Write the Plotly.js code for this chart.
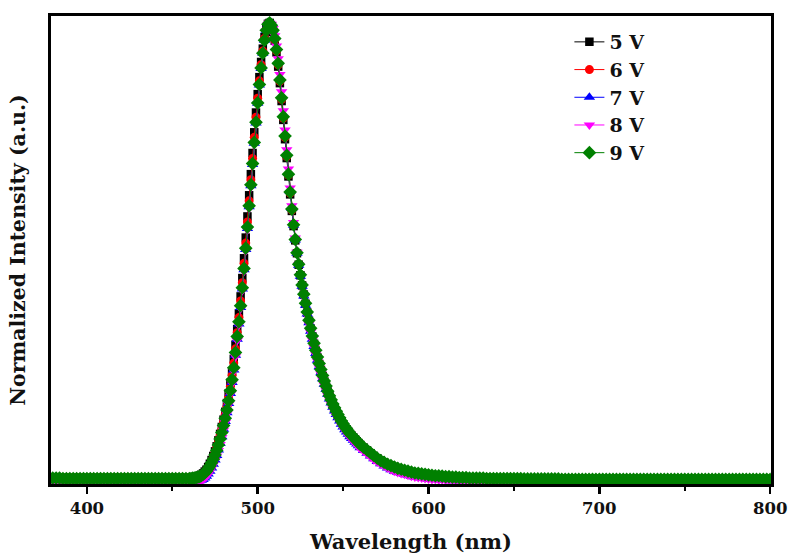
<!DOCTYPE html>
<html>
<head>
<meta charset="utf-8">
<script src="https://cdn.plot.ly/plotly-3.0.1.min.js"></script>
<style>html,body{margin:0;padding:0;background:#fff;}#chart{width:791px;height:554px;}</style>
</head>
<body>
<div id="chart"></div>
<script>
const wavelength = [
380,382,384,386,388,390,392,394,396,398,
400,402,404,406,408,410,412,414,416,418,
420,422,424,426,428,430,432,434,436,438,
440,442,444,446,448,450,452,454,456,458,
460,
461,462,463,464,465,466,467,468,469,470,
471,472,473,474,475,476,477,478,479,480,
481,482,483,484,485,486,487,488,489,490,
491,492,493,494,495,496,497,498,499,500,
501,502,503,504,505,506,507,508,509,510,
511,512,513,514,515,516,517,518,519,520,
521,522,523,524,525,526,527,528,529,530,
531,532,533,534,535,536,537,538,539,540,
541,542,543,544,545,546,547,548,549,550,
551,552,553,554,555,556,557,558,559,560,
562,564,566,568,570,572,574,576,578,580,
582,584,586,588,590,592,594,596,598,600,
602,604,606,608,610,612,614,616,618,620,
622,624,626,628,630,632,634,636,638,640,
642,644,646,648,650,652,654,656,658,660,
662,664,666,668,670,672,674,676,678,680,
682,684,686,688,690,692,694,696,698,700,
702,704,706,708,710,712,714,716,718,720,
722,724,726,728,730,732,734,736,738,740,
742,744,746,748,750,752,754,756,758,760,
762,764,766,768,770,772,774,776,778,780,
782,784,786,788,790,792,794,796,798,800
];

const int5V = [
0.010,0.010,0.010,0.010,0.010,0.010,0.010,0.010,0.010,0.010,
0.010,0.010,0.010,0.010,0.010,0.010,0.010,0.010,0.010,0.010,
0.010,0.010,0.010,0.010,0.010,0.010,0.010,0.010,0.010,0.010,
0.010,0.010,0.010,0.010,0.010,0.010,0.010,0.010,0.010,0.010,
0.010,
0.010,0.010,0.011,0.012,0.013,0.015,0.017,0.020,0.024,0.028,
0.034,0.041,0.049,0.058,0.068,0.079,0.092,0.106,0.121,0.137,
0.154,0.173,0.194,0.217,0.242,0.269,0.300,0.334,0.368,0.405,
0.445,0.488,0.533,0.579,0.625,0.671,0.717,0.762,0.805,0.845,
0.882,0.915,0.944,0.969,0.988,0.998,1.000,0.993,0.980,0.961,
0.936,0.905,0.869,0.830,0.789,0.747,0.706,0.666,0.627,0.591,
0.558,0.527,0.499,0.474,0.451,0.429,0.409,0.389,0.370,0.352,
0.335,0.318,0.302,0.287,0.272,0.258,0.245,0.232,0.220,0.209,
0.198,0.188,0.179,0.170,0.162,0.154,0.147,0.140,0.133,0.127,
0.121,0.116,0.111,0.106,0.102,0.098,0.094,0.090,0.086,0.082,
0.076,0.070,0.064,0.058,0.053,0.048,0.044,0.040,0.037,0.034,
0.031,0.029,0.027,0.025,0.023,0.021,0.020,0.019,0.018,0.017,
0.016,0.015,0.015,0.014,0.013,0.013,0.012,0.012,0.011,0.011,
0.011,0.011,0.010,0.010,0.010,0.010,0.010,0.010,0.010,0.009,
0.009,0.009,0.009,0.009,0.009,0.009,0.009,0.009,0.009,0.009,
0.009,0.009,0.009,0.009,0.009,0.008,0.008,0.008,0.008,0.008,
0.008,0.008,0.008,0.008,0.008,0.008,0.008,0.008,0.008,0.008,
0.008,0.008,0.008,0.008,0.008,0.008,0.008,0.008,0.008,0.008,
0.008,0.008,0.008,0.008,0.008,0.008,0.008,0.008,0.008,0.008,
0.008,0.008,0.008,0.008,0.008,0.008,0.008,0.008,0.008,0.008,
0.008,0.008,0.008,0.008,0.008,0.008,0.008,0.008,0.008,0.008,
0.008,0.008,0.008,0.008,0.008,0.008,0.008,0.008,0.008,0.008
];

const int6V = [
0.010,0.010,0.010,0.010,0.010,0.010,0.010,0.010,0.010,0.010,
0.010,0.010,0.010,0.010,0.010,0.010,0.010,0.010,0.010,0.010,
0.010,0.010,0.010,0.010,0.010,0.010,0.010,0.010,0.010,0.010,
0.010,0.010,0.010,0.010,0.010,0.010,0.010,0.010,0.010,0.010,
0.010,
0.010,0.010,0.011,0.011,0.012,0.014,0.016,0.019,0.022,0.027,
0.032,0.038,0.046,0.055,0.064,0.075,0.087,0.101,0.115,0.131,
0.148,0.166,0.186,0.209,0.233,0.260,0.291,0.326,0.359,0.395,
0.435,0.477,0.521,0.567,0.613,0.659,0.705,0.751,0.795,0.836,
0.874,0.909,0.939,0.966,0.986,0.998,1.000,0.994,0.982,0.963,
0.939,0.909,0.873,0.834,0.793,0.751,0.709,0.669,0.630,0.593,
0.560,0.528,0.500,0.475,0.452,0.430,0.410,0.390,0.371,0.353,
0.336,0.319,0.303,0.288,0.273,0.259,0.246,0.233,0.221,0.210,
0.199,0.189,0.180,0.171,0.163,0.155,0.148,0.141,0.134,0.128,
0.122,0.117,0.112,0.107,0.103,0.099,0.095,0.091,0.087,0.083,
0.077,0.071,0.065,0.059,0.053,0.048,0.044,0.040,0.037,0.034,
0.031,0.029,0.027,0.025,0.023,0.021,0.020,0.019,0.018,0.017,
0.016,0.015,0.015,0.014,0.013,0.013,0.012,0.012,0.011,0.011,
0.011,0.010,0.010,0.010,0.010,0.010,0.010,0.009,0.009,0.009,
0.009,0.009,0.009,0.009,0.009,0.009,0.009,0.009,0.009,0.008,
0.008,0.008,0.008,0.008,0.008,0.008,0.008,0.008,0.008,0.008,
0.008,0.008,0.008,0.008,0.008,0.008,0.008,0.008,0.008,0.008,
0.008,0.008,0.008,0.008,0.008,0.008,0.008,0.008,0.008,0.008,
0.008,0.008,0.008,0.008,0.008,0.008,0.008,0.008,0.008,0.008,
0.008,0.008,0.008,0.008,0.008,0.008,0.008,0.008,0.008,0.008,
0.008,0.008,0.008,0.008,0.008,0.008,0.008,0.008,0.008,0.008,
0.008,0.008,0.008,0.008,0.008,0.008,0.008,0.008,0.008,0.008
];

const int7V = [
0.001,0.001,0.001,0.001,0.001,0.001,0.001,0.001,0.001,0.001,
0.001,0.001,0.001,0.001,0.001,0.001,0.001,0.001,0.001,0.001,
0.001,0.001,0.001,0.001,0.001,0.001,0.001,0.001,0.001,0.001,
0.001,0.001,0.001,0.001,0.001,0.001,0.001,0.001,0.001,0.001,
0.001,
0.001,0.001,0.002,0.002,0.003,0.004,0.005,0.007,0.010,0.014,
0.019,0.025,0.032,0.040,0.049,0.059,0.071,0.085,0.100,0.116,
0.133,0.152,0.172,0.194,0.218,0.245,0.277,0.312,0.345,0.381,
0.421,0.463,0.507,0.553,0.600,0.646,0.692,0.738,0.782,0.825,
0.865,0.901,0.934,0.962,0.984,0.997,1.000,0.996,0.985,0.968,
0.945,0.915,0.880,0.841,0.800,0.758,0.716,0.674,0.634,0.596,
0.560,0.528,0.499,0.473,0.449,0.427,0.406,0.386,0.367,0.348,
0.329,0.312,0.296,0.281,0.266,0.252,0.239,0.226,0.214,0.203,
0.192,0.182,0.173,0.164,0.156,0.148,0.141,0.134,0.127,0.121,
0.115,0.110,0.105,0.100,0.096,0.092,0.088,0.084,0.080,0.076,
0.070,0.064,0.058,0.052,0.046,0.041,0.036,0.032,0.028,0.025,
0.022,0.020,0.018,0.016,0.014,0.012,0.011,0.010,0.009,0.008,
0.007,0.007,0.006,0.006,0.005,0.005,0.004,0.004,0.004,0.003,
0.003,0.003,0.003,0.002,0.002,0.002,0.002,0.002,0.002,0.002,
0.001,0.001,0.001,0.001,0.001,0.001,0.001,0.001,0.001,0.001,
0.001,0.001,0.001,0.001,0.001,0.001,0.001,0.001,0.001,0.001,
0.001,0.001,0.001,0.001,0.001,0.001,0.001,0.001,0.001,0.001,
0.001,0.001,0.001,0.001,0.001,0.001,0.001,0.001,0.001,0.001,
0.001,0.001,0.001,0.001,0.001,0.001,0.001,0.001,0.001,0.001,
0.001,0.001,0.001,0.001,0.001,0.001,0.001,0.001,0.001,0.001,
0.001,0.001,0.001,0.001,0.001,0.001,0.001,0.001,0.001,0.001,
0.001,0.001,0.001,0.001,0.001,0.001,0.001,0.001,0.001,0.001
];

const int8V = [
0.002,0.002,0.002,0.002,0.002,0.002,0.002,0.002,0.002,0.002,
0.002,0.002,0.002,0.002,0.002,0.002,0.002,0.002,0.002,0.002,
0.002,0.002,0.002,0.002,0.002,0.002,0.002,0.002,0.002,0.002,
0.002,0.002,0.002,0.002,0.002,0.002,0.002,0.002,0.002,0.002,
0.002,
0.002,0.002,0.002,0.003,0.003,0.004,0.005,0.007,0.010,0.013,
0.018,0.024,0.031,0.039,0.048,0.058,0.070,0.083,0.098,0.114,
0.131,0.150,0.170,0.192,0.216,0.243,0.274,0.309,0.343,0.379,
0.418,0.460,0.504,0.550,0.597,0.643,0.690,0.736,0.780,0.823,
0.863,0.899,0.932,0.960,0.982,0.996,1.000,0.997,0.988,0.972,
0.950,0.922,0.888,0.850,0.809,0.767,0.724,0.682,0.641,0.602,
0.566,0.532,0.501,0.474,0.449,0.426,0.404,0.384,0.364,0.345,
0.327,0.310,0.294,0.279,0.264,0.250,0.237,0.224,0.212,0.201,
0.190,0.180,0.171,0.162,0.154,0.146,0.139,0.132,0.125,0.119,
0.113,0.108,0.103,0.098,0.094,0.090,0.086,0.082,0.078,0.074,
0.068,0.062,0.056,0.050,0.045,0.040,0.036,0.032,0.028,0.025,
0.022,0.020,0.018,0.016,0.014,0.012,0.011,0.010,0.009,0.008,
0.007,0.007,0.006,0.006,0.005,0.005,0.005,0.004,0.004,0.004,
0.003,0.003,0.003,0.003,0.002,0.002,0.002,0.002,0.002,0.002,
0.002,0.002,0.002,0.002,0.002,0.002,0.001,0.001,0.001,0.001,
0.001,0.001,0.001,0.001,0.001,0.001,0.001,0.001,0.001,0.001,
0.001,0.001,0.001,0.001,0.001,0.001,0.001,0.001,0.001,0.001,
0.001,0.001,0.001,0.001,0.001,0.001,0.001,0.001,0.001,0.001,
0.001,0.001,0.001,0.001,0.001,0.001,0.001,0.001,0.001,0.001,
0.001,0.001,0.001,0.001,0.001,0.001,0.001,0.001,0.001,0.001,
0.001,0.001,0.001,0.001,0.001,0.001,0.001,0.001,0.001,0.001,
0.001,0.001,0.001,0.001,0.001,0.001,0.001,0.001,0.001,0.001
];

const int9V = [
0.010,0.010,0.010,0.009,0.009,0.009,0.009,0.009,0.009,0.009,
0.009,0.009,0.009,0.009,0.009,0.009,0.009,0.009,0.009,0.009,
0.009,0.009,0.009,0.009,0.009,0.009,0.009,0.009,0.009,0.009,
0.009,0.009,0.009,0.009,0.009,0.009,0.009,0.009,0.009,0.009,
0.009,
0.009,0.010,0.010,0.011,0.012,0.013,0.015,0.018,0.021,0.025,
0.030,0.036,0.043,0.051,0.060,0.070,0.082,0.095,0.109,0.124,
0.140,0.158,0.178,0.200,0.224,0.250,0.283,0.318,0.350,0.385,
0.424,0.466,0.510,0.556,0.602,0.648,0.694,0.740,0.784,0.826,
0.866,0.902,0.934,0.962,0.984,0.997,1.000,0.995,0.984,0.966,
0.942,0.912,0.876,0.837,0.796,0.754,0.712,0.671,0.632,0.595,
0.561,0.529,0.500,0.475,0.452,0.430,0.410,0.390,0.371,0.353,
0.336,0.319,0.303,0.288,0.273,0.259,0.246,0.233,0.221,0.210,
0.199,0.189,0.180,0.171,0.163,0.155,0.148,0.141,0.134,0.128,
0.122,0.117,0.112,0.107,0.103,0.099,0.095,0.091,0.087,0.083,
0.077,0.071,0.065,0.059,0.053,0.048,0.044,0.040,0.037,0.034,
0.031,0.029,0.027,0.025,0.023,0.021,0.020,0.019,0.018,0.017,
0.016,0.015,0.015,0.014,0.013,0.013,0.012,0.012,0.011,0.011,
0.011,0.010,0.010,0.010,0.010,0.010,0.009,0.009,0.009,0.009,
0.009,0.009,0.009,0.009,0.009,0.009,0.009,0.008,0.008,0.008,
0.008,0.008,0.008,0.008,0.008,0.008,0.008,0.008,0.007,0.007,
0.007,0.007,0.007,0.007,0.007,0.007,0.007,0.007,0.007,0.007,
0.007,0.007,0.007,0.007,0.007,0.007,0.007,0.007,0.007,0.007,
0.007,0.007,0.007,0.007,0.007,0.007,0.007,0.007,0.007,0.007,
0.007,0.007,0.007,0.007,0.007,0.007,0.007,0.007,0.007,0.007,
0.007,0.007,0.007,0.007,0.007,0.007,0.007,0.007,0.007,0.007,
0.007,0.007,0.007,0.007,0.007,0.007,0.007,0.007,0.007,0.007
];

const seriesNames = ['5 V','6 V','7 V','8 V','9 V'];
const seriesValues = [int5V, int6V, int7V, int8V, int9V];
const seriesColors = ['#000000','#ff0000','#0000ff','#ff00ff','#008000'];
const seriesSymbols = ['square','circle','triangle-up','triangle-down','diamond'];
const seriesSizes = [8.5, 9, 10, 10, 10.5];

const traces = seriesNames.map((name, i) => ({
  x: wavelength,
  y: seriesValues[i],
  name: name,
  type: 'scatter',
  mode: 'lines+markers',
  line: {color: seriesColors[i], width: 1},
  marker: {color: seriesColors[i], symbol: seriesSymbols[i], size: seriesSizes[i], line: {width: 0}}
}));

const serif = 'DejaVu Serif, Liberation Serif, serif';

const layout = {
  width: 791, height: 554,
  margin: {l: 51, r: 20, t: 16, b: 70},
  paper_bgcolor: '#ffffff',
  plot_bgcolor: '#ffffff',
  font: {family: serif, color: '#000000'},
  showlegend: true,
  legend: {
    x: 0.72, y: 0.985, xanchor: 'left', yanchor: 'top',
    bgcolor: 'rgba(0,0,0,0)', borderwidth: 0,
    font: {family: serif, size: 19, weight: 'bold', color: '#111111'}
  },
  xaxis: {
    range: [379, 800.5],
    tick0: 400, dtick: 100,
    ticks: 'outside', ticklen: 7, tickwidth: 2.5, tickcolor: '#000000',
    showline: true, linewidth: 3, linecolor: '#000000', mirror: true,
    showgrid: false, zeroline: false,
    tickfont: {family: serif, size: 16.5, weight: 'bold', color: '#111111'},
    minor: {tick0: 400, dtick: 50, ticks: 'outside', ticklen: 4, tickwidth: 2, tickcolor: '#000000', showgrid: false},
    title: {text: 'Wavelength (nm)', font: {family: serif, size: 21, weight: 'bold', color: '#111111'}, standoff: 21}
  },
  yaxis: {
    range: [-0.003, 1.015],
    showticklabels: false, ticks: '',
    showline: true, linewidth: 3, linecolor: '#000000', mirror: true,
    showgrid: false, zeroline: false,
    title: {text: 'Normalized Intensity (a.u.)', font: {family: serif, size: 20.5, weight: 'bold', color: '#111111'}, standoff: 17}
  }
};

Plotly.newPlot('chart', traces, layout, {displayModeBar: false, staticPlot: true});
</script>
</body>
</html>
